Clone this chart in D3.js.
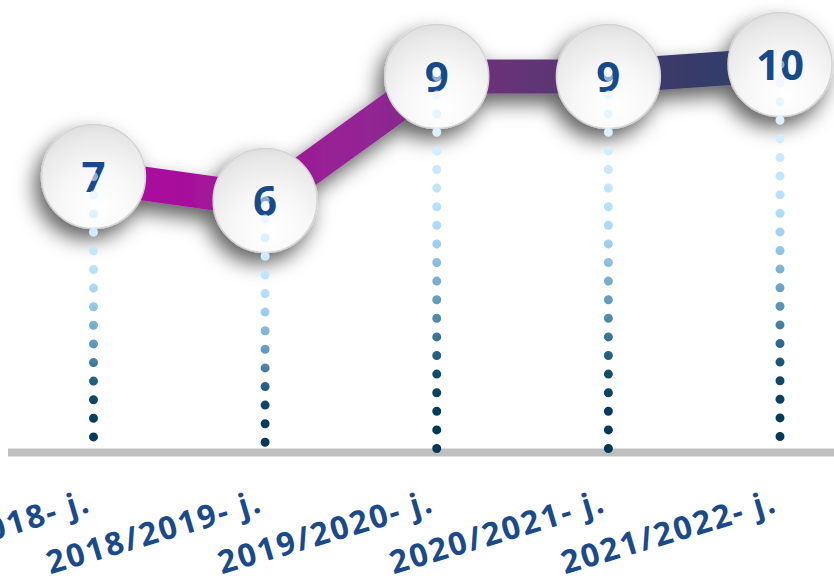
<!DOCTYPE html>
<html>
<head>
<meta charset="utf-8">
<script src="https://cdn.jsdelivr.net/npm/d3@7"></script>
<style>
  html, body { margin: 0; padding: 0; background: #ffffff; overflow: hidden; }
  svg { display: block; }
</style>
</head>
<body>
<svg id="chart" width="834" height="580"></svg>
<script>
// ---- data ----
const categories = ["2017/2018- j.", "2018/2019- j.", "2019/2020- j.", "2020/2021- j.", "2021/2022- j."];
const values = [6.9, 6.3, 9.4, 9.4, 9.7];
const yDomain = [0, 11];

// ---- layout ----
const W = 834, H = 580;
const baseY = 452.5;
const svg = d3.select("#chart");

const x = d3.scalePoint().domain(categories).range([93.5, 780]).padding(0);
const y = d3.scaleLinear().domain(yDomain).range([baseY, baseY - 440]);

const pts = categories.map((c, i) => ({ c, v: values[i], cx: x(c), cy: y(values[i]) }));

const defs = svg.append("defs");

// line gradient (horizontal)
const lg = defs.append("linearGradient").attr("id", "lineGrad")
  .attr("gradientUnits", "userSpaceOnUse")
  .attr("x1", x.range()[0]).attr("x2", x.range()[1]).attr("y1", 0).attr("y2", 0);
[[0, "#b0069f"], [0.4, "#932594"], [0.55, "#70327a"], [0.85, "#3b3a6b"], [1, "#263f66"]]
  .forEach(([o, c]) => lg.append("stop").attr("offset", o).attr("stop-color", c));

// circle gradient
const cg = defs.append("radialGradient").attr("id", "circGrad")
  .attr("cx", 0.55).attr("cy", 0.78).attr("r", 0.85).attr("fx", 0.55).attr("fy", 0.8);
[[0, "#ffffff"], [0.45, "#f7f7f7"], [0.8, "#e8e8e8"], [1, "#d9d9d9"]]
  .forEach(([o, c]) => cg.append("stop").attr("offset", o).attr("stop-color", c));

// shadow
const f = defs.append("filter").attr("id", "shadow")
  .attr("x", "-40%").attr("y", "-40%").attr("width", "180%").attr("height", "180%");
f.append("feDropShadow").attr("dx", -6).attr("dy", 10).attr("stdDeviation", 10)
  .attr("flood-color", "#000").attr("flood-opacity", 0.62);

// dot gradients per column
const dotStops = [[0, "#f2f9fe", 0.55], [0.12, "#e2f3fd", 1], [0.38, "#b0defb", 1], [0.45, "#9bcfee", 1],
  [0.55, "#76adce", 1], [0.65, "#508bad", 1], [0.72, "#2e6a8c", 1], [0.8, "#0f4a6c", 1],
  [0.9, "#043c5e", 1], [1, "#023858", 1]];
pts.forEach((p, i) => {
  const g = defs.append("linearGradient").attr("id", "dotGrad" + i)
    .attr("gradientUnits", "userSpaceOnUse")
    .attr("x1", p.cx).attr("x2", p.cx).attr("y1", p.cy).attr("y2", baseY - 2);
  dotStops.forEach(([o, c, op]) => g.append("stop").attr("offset", o)
    .attr("stop-color", c).attr("stop-opacity", op));
});

// baseline
svg.append("line")
  .attr("x1", 8).attr("x2", W).attr("y1", baseY).attr("y2", baseY)
  .attr("stroke", "#bfbfbf").attr("stroke-width", 8);

// x labels
svg.append("g").selectAll("text").data(pts).join("text")
  .attr("transform", d => `translate(${d.cx - 1},511) rotate(-16.5)`)
  .attr("text-anchor", "end")
  .attr("font-family", "'Open Sans', sans-serif")
  .attr("font-weight", 700)
  .attr("font-size", 32)
  .attr("letter-spacing", 2)
  .attr("fill", "#1a4a8a")
  .text(d => d.c);

// line + circles with shadow
const mg = svg.append("g").attr("filter", "url(#shadow)");
mg.append("path").datum(pts)
  .attr("d", d3.line().x(d => d.cx).y(d => d.cy))
  .attr("fill", "none")
  .attr("stroke", "url(#lineGrad)")
  .attr("stroke-width", 34);
mg.selectAll("circle").data(pts).join("circle")
  .attr("cx", d => d.cx).attr("cy", d => d.cy).attr("r", 52)
  .attr("fill", "url(#circGrad)")
  .attr("stroke", "#d4d4d4").attr("stroke-width", 1.5);

// value labels
svg.append("g").selectAll("text").data(pts).join("text")
  .attr("x", d => d.cx).attr("y", d => d.cy + 15.5)
  .attr("text-anchor", "middle")
  .attr("font-family", "'Open Sans', sans-serif")
  .attr("font-weight", 700)
  .attr("font-size", 42)
  .attr("fill", "#174a8a")
  .text(d => Math.round(d.v));

// dotted drop lines
svg.append("g").selectAll("line").data(pts).join("line")
  .attr("x1", d => d.cx).attr("x2", d => d.cx)
  .attr("y1", d => d.cy).attr("y2", baseY - 2)
  .attr("stroke", (d, i) => `url(#dotGrad${i})`)
  .attr("stroke-width", 9)
  .attr("stroke-linecap", "round")
  .attr("stroke-dasharray", "0 18.6");
</script>
</body>
</html>
